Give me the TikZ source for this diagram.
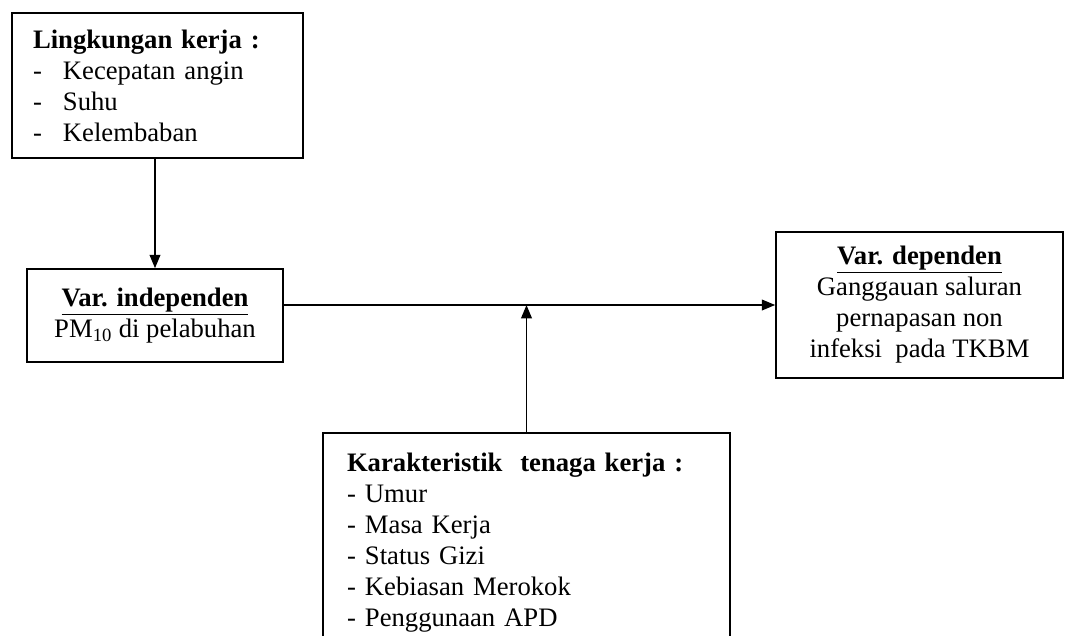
\documentclass[tikz,border=0pt]{standalone}
\usepackage{fontspec}
\setmainfont{Liberation Serif}
\usetikzlibrary{positioning,arrows.meta}

\newcommand{\butir}[2][22.5pt]{\makebox[#1][l]{-}#2}

\begin{document}
\begin{tikzpicture}[
    x=0.75pt, y=-0.75pt,
    >={Triangle[length=10pt,width=8pt]},
    line width=1.2pt,
    font=\fontsize{20}{23.25}\selectfont,
    box/.style={
      draw,
      align=center,
      inner sep=0pt
    },
    listbox/.style={
      draw,
      align=left,
      inner xsep=15.75pt,
      inner ysep=0pt
    }
  ]
    \useasboundingbox (0,0) rectangle (1065,636);
    \clip (0,0) rectangle (1065,636);

    \node[listbox, text width=186.75pt, minimum height=108.75pt] (lingkungan) at (157.5,85.5)
      {\textbf{Lingkungan kerja :}\\\butir{Kecepatan angin}\\\butir{Suhu}\\\butir{Kelembaban}};
    \node[box, minimum width=192pt, minimum height=69.75pt] (independen) at (155,315.5)
      {\textbf{\underline{Var. independen}}\\PM\textsubscript{10} di pelabuhan};
    \node[box, minimum width=215.25pt, minimum height=109.5pt] (dependen) at (919.5,305)
      {\textbf{\underline{Var. dependen}}\\Ganggauan saluran\\pernapasan non\\infeksi\ \ pada TKBM};
    \node[listbox, anchor=north, inner xsep=18pt, inner ysep=15pt, text width=269.25pt] (karakteristik) at (526.5,432)
      {\textbf{Karakteristik\ \ tenaga kerja :}\\\butir[13.5pt]{Umur}\\\butir[13.5pt]{Masa Kerja}\\\butir[13.5pt]{Status Gizi}\\\butir[13.5pt]{Kebiasan Merokok}\\\butir[13.5pt]{Penggunaan APD}\\\strut};

    \draw[->] (independen.north |- lingkungan.south) -- (independen.north);
    \draw[->] (independen.east |- dependen.west) -- (dependen.west);
    \draw[->] (karakteristik.north) -- (karakteristik.north |- dependen.west);
  \end{tikzpicture}
\end{document}
